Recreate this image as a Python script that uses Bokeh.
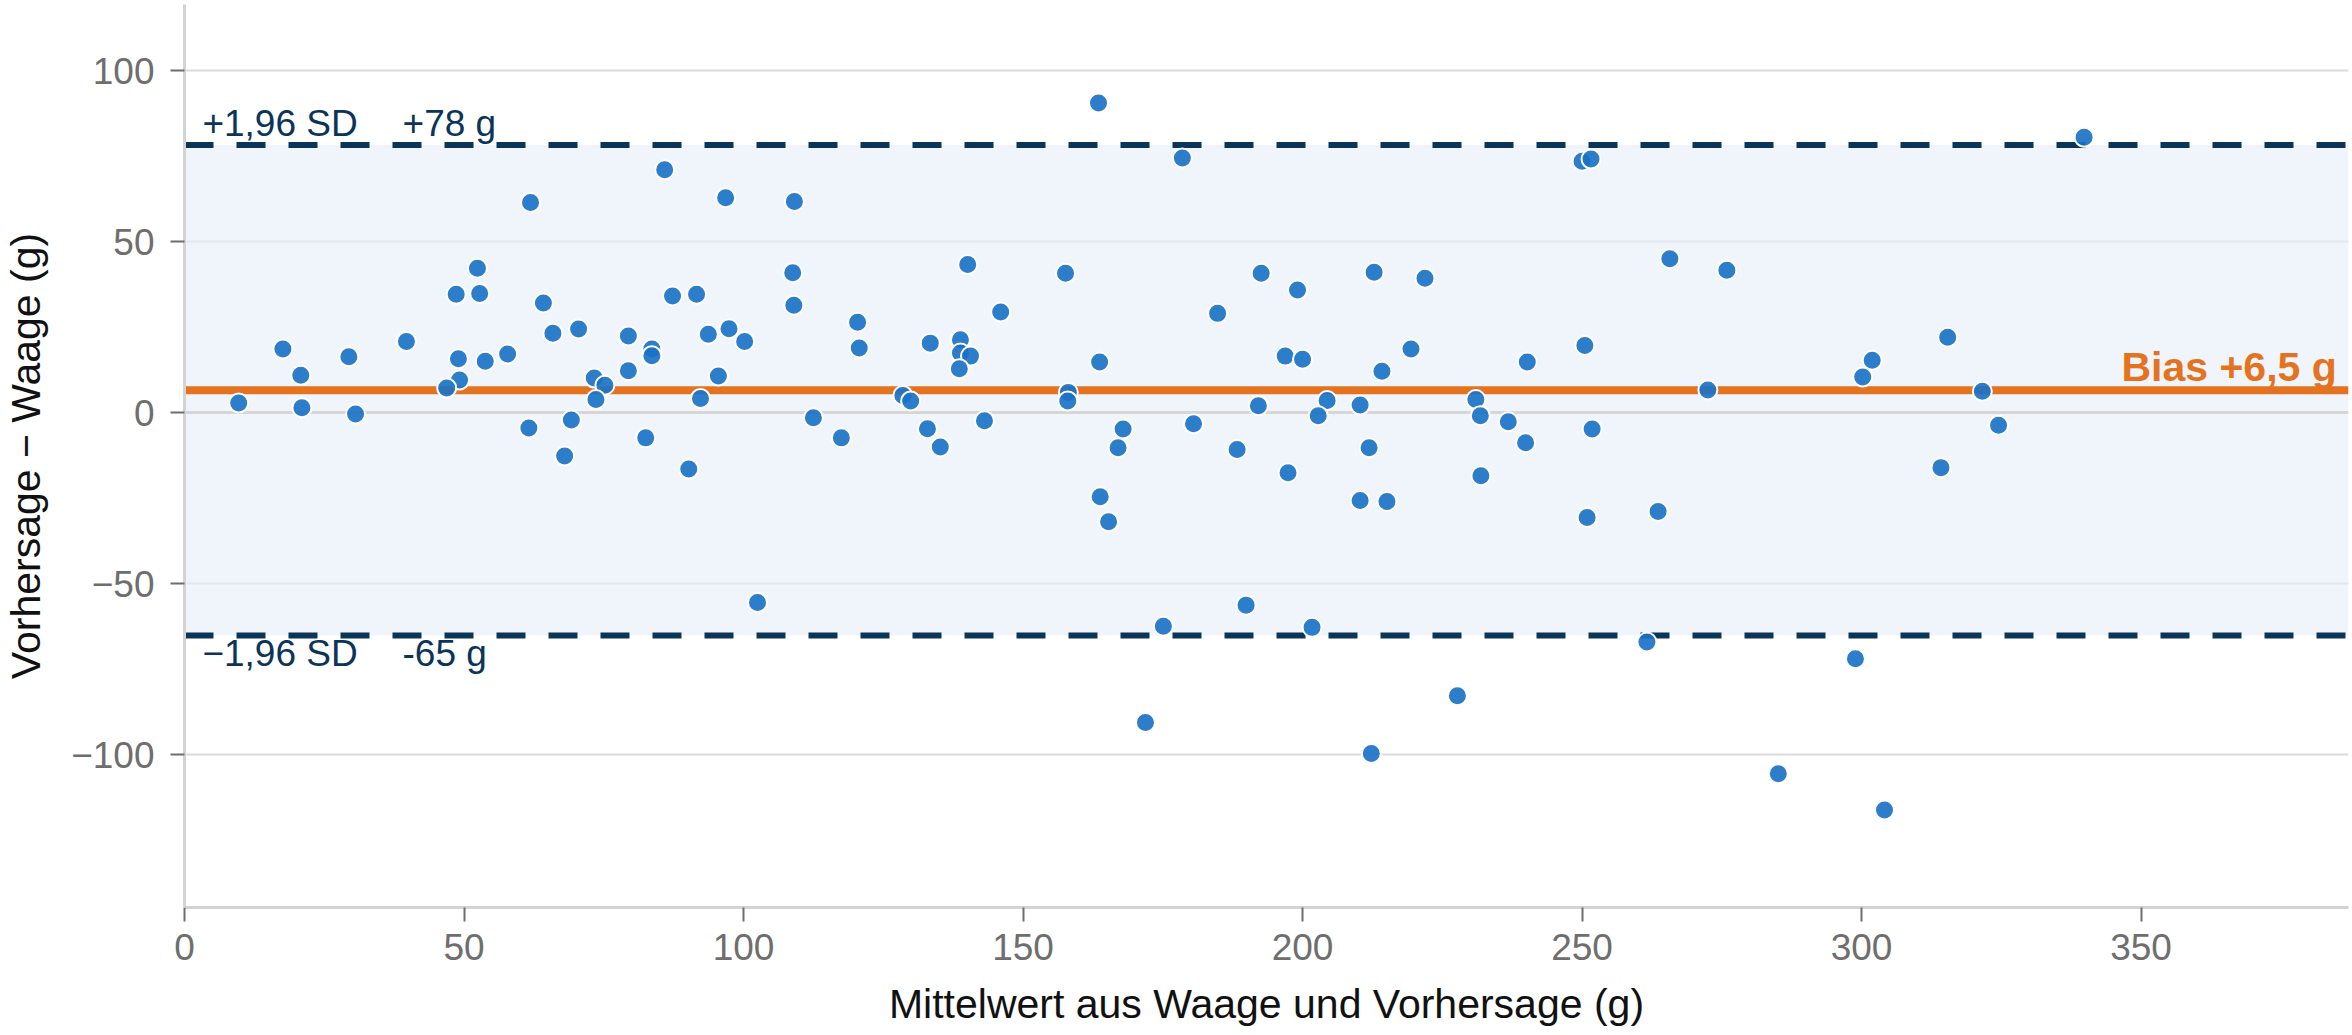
from bokeh.plotting import figure
from bokeh.models import Span, BoxAnnotation, FixedTicker, Label, ColumnDataSource, Range1d
from bokeh.embed import file_html
from bokeh.resources import INLINE

# Mean of scale and prediction (g)
mean_g = [
    9.7, 17.6, 20.8, 21.0, 29.4, 30.6, 39.7, 48.6, 52.4, 52.8, 49.0, 49.2, 46.9, 53.8, 57.8,
    61.9, 64.2, 65.9, 70.5, 61.6, 69.2, 68.0, 73.3, 75.2, 73.6,
    85.9, 96.8, 109.1, 79.4, 79.4, 83.6, 83.6, 82.5, 87.3, 91.6, 93.7, 97.4, 100.2, 95.5, 92.3,
    90.2, 102.5, 108.8, 109.0, 112.5, 117.5, 120.4, 120.7, 128.5, 129.9, 132.9, 135.2, 133.4,
    140.1, 138.8, 138.8, 140.6, 138.6, 146.0, 143.1,
    163.5, 178.5, 157.6, 163.7, 158.1, 158.0, 167.9, 167.0, 163.8, 165.3, 171.9, 175.1, 180.5,
    184.8, 188.3, 189.9, 192.1, 192.6, 196.9, 200.0, 199.1, 197.4, 201.7, 204.4, 202.8, 210.3,
    211.9, 210.3, 215.1, 212.8, 214.2, 219.4, 221.9, 212.3, 227.7,
    250.0, 251.6, 265.7, 275.9, 250.5, 240.2, 231.0, 231.8, 236.8, 239.9, 231.9, 251.8, 250.9,
    263.6, 261.6, 272.5, 298.9, 285.1, 300.2,
    339.8, 301.9, 315.4, 321.6, 324.5, 314.2, 304.1,
]
# Difference prediction - scale (g)
diff_g = [
    2.8, 18.6, 10.9, 1.4, 16.3, -0.4, 20.8, 34.6, 42.2, 34.8, 15.7, 9.5, 7.2, 15.0, 17.1,
    61.4, 32.0, 23.2, 24.4, -4.5, -2.2, -12.7, 10.1, 8.0, 3.8,
    71.0, 62.8, 61.7, 22.4, 12.2, 18.6, 16.6, -7.4, 34.1, 34.6, 22.9, 24.5, 20.8, 10.7, 4.1,
    -16.5, -55.5, 40.9, 31.4, -1.5, -7.4, 26.4, 18.9, 5.0, 3.4, -4.7, -10.1, 20.3,
    43.3, 21.3, 17.4, 16.5, 12.8, 29.4, -2.4,
    90.5, 74.4, 40.7, 14.8, 5.9, 3.4, -4.8, -10.3, -24.6, -31.9, -90.6, -62.5, -3.3,
    29.0, -10.8, -56.3, 2.0, 40.7, 16.5, 15.6, 35.8, -17.6, -62.8, 3.5, -0.9, 2.2,
    -10.3, -25.7, -26.0, 41.0, 12.1, 18.6, 39.3, -99.7, -82.8,
    73.5, 74.1, 45.0, 41.6, 19.6, 14.8, 3.8, -0.9, -2.7, -8.8, -18.5, -4.8, -30.7,
    -28.9, -67.1, 6.6, -72.0, -105.6, 10.4,
    80.5, 15.3, 22.0, 6.2, -3.7, -16.1, -116.2,
]

bias = 6.5
loa_upper = 78.2
loa_lower = -65.2

x_ticks = [0, 50, 100, 150, 200, 250, 300, 350]
y_ticks = [-100, -50, 0, 50, 100]
y_tick_labels = {-100: "\u2212100", -50: "\u221250"}

upper_label = "+1,96 SD"
upper_value = "+78 g"
lower_label = "\u22121,96 SD"
lower_value = "-65 g"
bias_label = "Bias +6,5 g"

FONT = "Liberation Sans"
NAVY = "#0b3558"
ORANGE = "#e3731f"
BLUE = "#1b72c5"

src = ColumnDataSource(data=dict(x=mean_g, y=diff_g))

p = figure(width=2352, height=1035,
           x_range=Range1d(0, 387.1), y_range=Range1d(-144.7, 119.3),
           output_backend="svg", toolbar_location=None,
           min_border_top=4, min_border_right=4,
           min_border_left=183, min_border_bottom=128)
p.outline_line_color = None
p.background_fill_color = "white"
p.border_fill_color = "white"

p.xgrid.visible = False
p.ygrid.ticker = FixedTicker(ticks=y_ticks)
p.ygrid.grid_line_color = "#dcdcdc"
p.ygrid.grid_line_width = 2

band = BoxAnnotation(bottom=loa_lower, top=loa_upper, fill_color="#e6eef9",
                     fill_alpha=0.62, line_color=None, level="underlay")
p.add_layout(band)
p.add_layout(Span(location=0, dimension="width", line_color="#d6d6d6",
                  line_width=3, level="underlay"))
for loc in (loa_upper, loa_lower):
    p.add_layout(Span(location=loc, dimension="width", line_color=NAVY,
                      line_width=6, line_dash="29 23", level="underlay"))
p.add_layout(Span(location=bias, dimension="width", line_color=ORANGE,
                  line_width=8, level="underlay"))

p.scatter(x="x", y="y", source=src, size=19, fill_color=BLUE, fill_alpha=0.92,
          line_color="white", line_width=2)

for (xx, yy, txt) in ((3.2, 84.6, upper_label), (39.0, 84.6, upper_value),
                      (3.2, -70.3, lower_label), (39.0, -70.3, lower_value)):
    p.add_layout(Label(x=xx, y=yy, text=txt, text_font=FONT, text_font_size="37px",
                       text_color=NAVY, text_baseline="alphabetic"))
p.add_layout(Label(x=385.0, y=13.4, text=bias_label, text_font=FONT, text_font_size="41px",
                   text_font_style="bold", text_color=ORANGE, text_align="right",
                   text_baseline="alphabetic"))

for ax in (p.xaxis[0], p.yaxis[0]):
    ax.axis_line_color = "#d3d3d3"
    ax.axis_line_width = 3
    ax.major_tick_line_color = "#6e6e6e"
    ax.major_tick_line_width = 2
    ax.major_tick_in = 0
    ax.major_tick_out = 14
    ax.minor_tick_line_color = None
    ax.major_label_text_font = FONT
    ax.major_label_text_font_size = "37px"
    ax.major_label_text_color = "#6e6e6e"
    ax.axis_label_text_font = FONT
    ax.axis_label_text_font_size = "41px"
    ax.axis_label_text_font_style = "normal"
    ax.axis_label_text_color = "#111111"

p.xaxis.ticker = FixedTicker(ticks=x_ticks)
p.yaxis.ticker = FixedTicker(ticks=y_ticks)
p.yaxis.major_label_overrides = y_tick_labels
p.xaxis.axis_label = "Mittelwert aus Waage und Vorhersage (g)"
p.yaxis.axis_label = "Vorhersage \u2212 Waage (g)"
p.xaxis.major_label_standoff = 12
p.xaxis.axis_label_standoff = 18
p.yaxis.major_label_standoff = 16
p.yaxis.axis_label_standoff = 19

open("out.html", "w").write(file_html(p, INLINE))
